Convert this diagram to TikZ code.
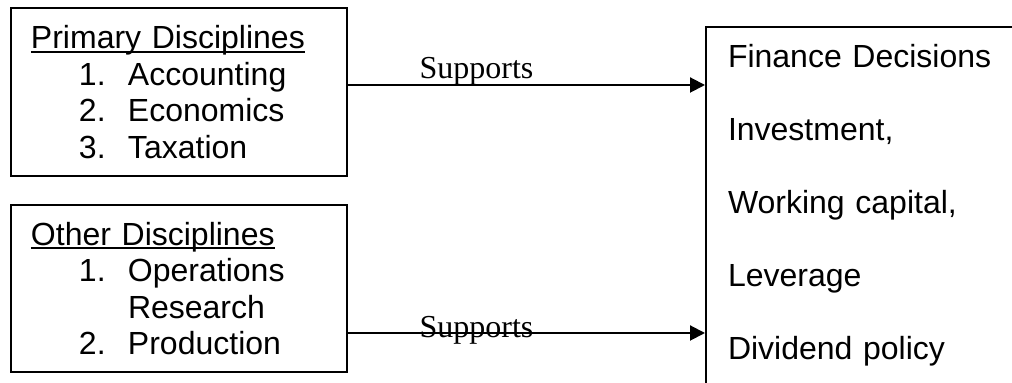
\documentclass[tikz,border=0pt]{standalone}
\usepackage{fontspec}
\setmainfont{Liberation Sans}
\newfontfamily\seriffont{Liberation Serif}
\usetikzlibrary{arrows.meta}
\tikzstyle{box}=[draw,anchor=north west,align=left,inner xsep=10pt,text width=148pt,font=\fontsize{16}{18.25}\selectfont]
\tikzstyle{lbl}=[anchor=base,font=\seriffont\fontsize{16}{18}\selectfont]
\tikzset{>={Triangle[length=7.5pt,width=7.5pt]}}
\newsavebox\hdrbox
\newcommand{\hdr}[1]{\sbox\hdrbox{#1}\rlap{\rule[-2pt]{\wd\hdrbox}{1pt}}\usebox\hdrbox}
\newcommand{\itm}[2]{\hspace*{24pt}\makebox[24.5pt][l]{#1}#2}
\newcommand{\drawbox}{\node[box]}

\begin{document}
\begin{tikzpicture}[x=0.5pt,y=-0.5pt,line width=1pt]
	\clip (0,0) rectangle (1012,383);
	
	\drawbox (prim) [minimum height=84pt] at (10,7)
		{\hdr{Primary Disciplines}\\ \itm{1.}{Accounting}\\ \itm{2.}{Economics}\\ \itm{3.}{Taxation}};
	\drawbox (oth) [minimum height=83.5pt] at (10,204)
		{\hdr{Other Disciplines}\\ \itm{1.}{Operations}\\ \itm{}{Research}\\ \itm{2.}{Production}};
	\drawbox (fin) [font=\fontsize{16}{36.5}\selectfont,inner xsep=11pt,inner ysep=8.5pt,
		text width=200pt,text height=12pt,text depth=170pt] at (705,26)
		{Finance Decisions\\ Investment,\\ Working capital,\\ Leverage\\ Dividend policy};
	
	\coordinate (p1) at ([yshift=3.5pt]prim.east);
	\coordinate (p2) at ([yshift=-22.25pt]oth.east);
	
	\draw[->] (p1) -- (p1 -| fin.west) node[lbl,pos=.36,yshift=3pt] (sup1) {Supports};
	\draw[->] (p2) -- (p2 -| fin.west) node[lbl,pos=.36,yshift=-2.5pt] (sup2) {Supports};
	
\end{tikzpicture}
\end{document}
